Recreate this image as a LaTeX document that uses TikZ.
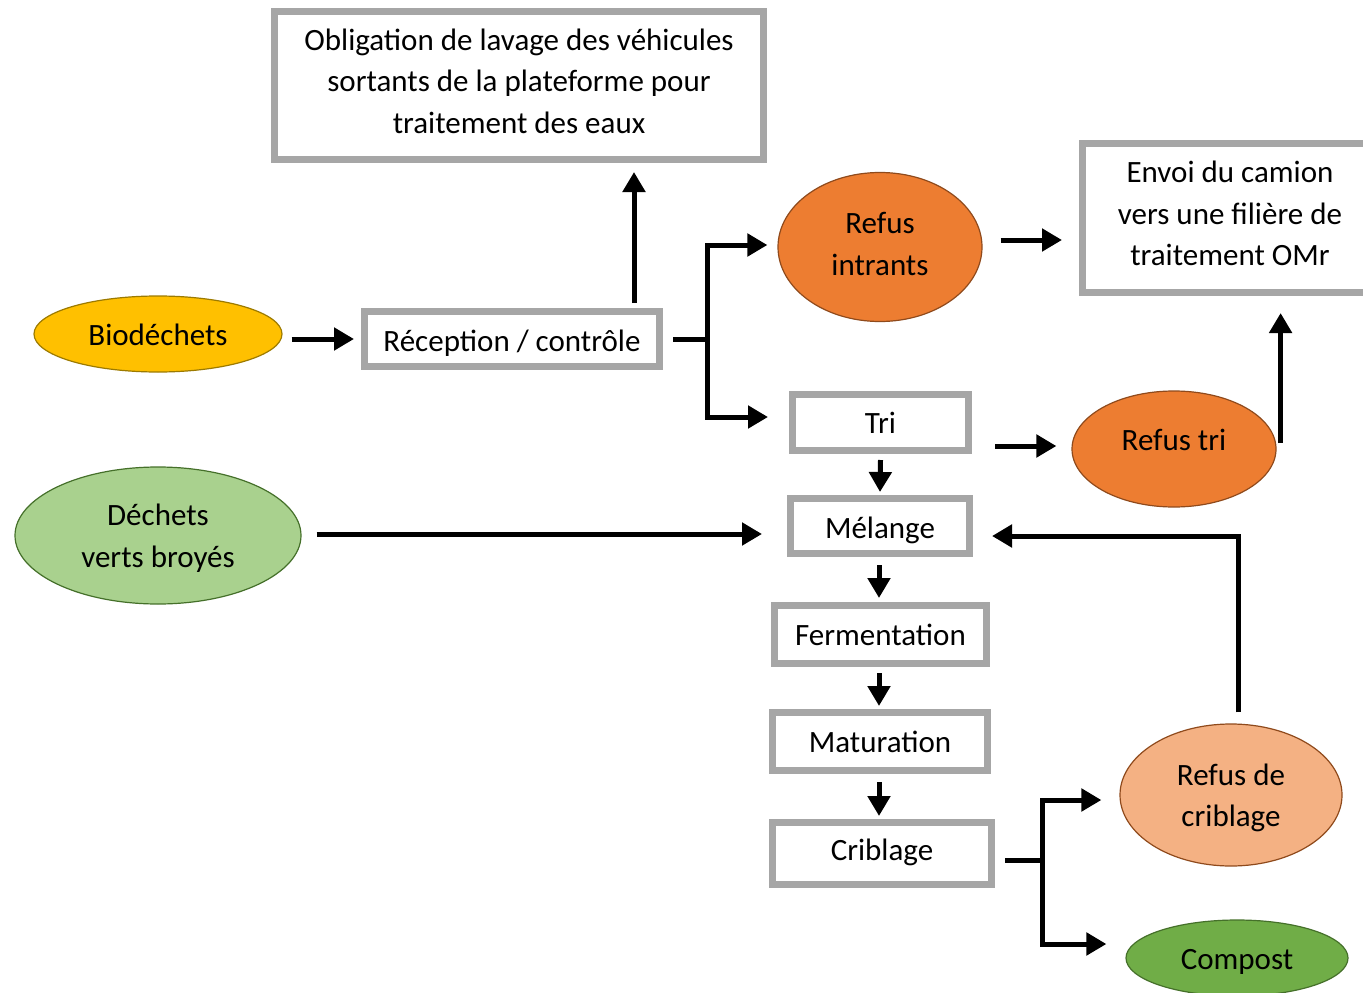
\documentclass[tikz,border=0pt]{standalone}
\usepackage{fontspec}
\setmainfont{Carlito}
\usetikzlibrary{arrows.meta,calc,shapes.geometric}
\definecolor{boxgray}{HTML}{A6A6A6}
\definecolor{cyellow}{HTML}{FFC000}
\definecolor{oyellow}{HTML}{9C7A00}
\definecolor{corange}{HTML}{ED7D31}
\definecolor{oorange}{HTML}{8F4A1C}
\definecolor{corangel}{HTML}{F4B183}
\definecolor{cgreenl}{HTML}{A9D18E}
\definecolor{cgreen}{HTML}{70AD47}
\definecolor{ogreen}{HTML}{45702A}
\begin{document}
\begin{tikzpicture}[x=1pt,y=-1pt,
  every node/.style={font=\fontsize{31}{41.5}\selectfont, text=black, inner sep=0pt, align=center},
  graybox/.style={rectangle, draw=boxgray, line width=7pt, fill=white},
  oval/.style={ellipse, line width=1.2pt},
  arr/.style={line width=5pt, -{Triangle[length=20pt,width=22pt]}},
  ln/.style={line width=5pt}]
\useasboundingbox (0,0) rectangle (1363,993);
\clip (0,0) rectangle (1363,993);

\node[graybox, minimum width=489pt, minimum height=148pt] (obl) at (519,85.5) {};
\node (oblt) at ($(obl)+(0,-4.5)$) {Obligation de lavage des véhicules\\sortants de la plateforme pour\\traitement des eaux};
\node[oval, fill=cyellow, draw=oyellow, minimum width=248pt, minimum height=76pt] (bio) at (158,334) {};
\node (biot) at ($(bio)+(0,1)$) {Biodéchets};
\node[graybox, minimum width=295pt, minimum height=55pt] (rec) at (512,339) {};
\node (rect) at ($(rec)+(0,4)$) {Réception / contrôle};
\node[oval, fill=corange, draw=oorange, minimum width=204pt, minimum height=149pt] (refi) at (880,247) {};
\node (refit) at ($(refi)+(0,-3)$) {Refus\\intrants};
\node[graybox, minimum width=295pt, minimum height=149pt] (env) at (1230,218) {};
\node (envt) at ($(env)+(0,-4.5)$) {Envoi du camion\\vers une filière de\\traitement OMr};
\node[graybox, minimum width=176pt, minimum height=56pt] (tri) at (880.5,422.5) {};
\node (trit) at (tri) {Tri};
\node[oval, fill=corange, draw=oorange, minimum width=204pt, minimum height=116pt] (rtri) at (1174,449) {};
\node (rtrit) at ($(rtri)+(0,-9)$) {Refus tri};
\node[graybox, minimum width=179pt, minimum height=55pt] (mel) at (880,526) {};
\node (melt) at ($(mel)+(0,4)$) {Mélange};
\node[oval, fill=cgreenl, draw=ogreen, minimum width=286pt, minimum height=137pt] (dv) at (158,535.5) {};
\node (dvt) at ($(dv)+(0,2.5)$) {Déchets\\verts broyés};
\node[graybox, minimum width=212pt, minimum height=58pt] (fer) at (880.5,634.5) {};
\node (fert) at (fer) {Fermentation};
\node[graybox, minimum width=215pt, minimum height=58pt] (mat) at (880,741.5) {};
\node (matt) at (mat) {Maturation};
\node[graybox, minimum width=219pt, minimum height=62pt] (cri) at (882,853.5) {};
\node (crit) at ($(cri)+(0,-1)$) {Criblage};
\node[oval, fill=corangel, draw=oorange, minimum width=222pt, minimum height=142pt] (rdc) at (1231,795) {};
\node (rdct) at ($(rdc)+(0,3)$) {Refus de\\criblage};
\node[oval, fill=cgreen, draw=ogreen, minimum width=222pt, minimum height=76pt] (comp) at (1237,958) {};
\node (compt) at ($(comp)+(0,4)$) {Compost};

\draw[arr] ($(bio.east |- rec.west)+(9,0)$) -- ($(rec.west)+(-7,0)$);
\draw[arr] ($(rec.north)+(122,-5)$) -- ($(obl.south)+(115,9)$);
\coordinate (b1) at (707,339);
\draw[ln] ($(rec.east)+(10,0)$) -- (b1);
\draw[arr] (b1) |- ($(refi.west)+(-10,-2)$);
\draw[arr] (b1) |- ($(tri.west)+(-21,-5.5)$);
\draw[arr] ($(refi.east)+(18,-7)$) -- ($(env.west |- refi.east)+(-17,-7)$);
\draw[arr] ($(tri.east)+(23,23.5)$) -- ($(rtri.west |- tri.east)+(-15,23.5)$);
\draw[arr] ($(rtri.east)+(4,-6)$) -- ($(env.south -| rtri.east)+(4,17)$);
\draw[arr] ($(tri.south)+(0,6)$) -- ($(mel.north)+(0,-3)$);
\draw[arr] ($(dv.east)+(15,-1.5)$) -- ($(mel.west)+(-25,8)$);
\draw[arr] ($(rdc.north)+(7,-11)$) |- ($(mel.east)+(19,10)$);
\draw[arr] ($(mel.south)+(-1,8)$) -- ($(fer.north)+(-1.5,-4)$);
\draw[arr] ($(fer.south)+(-1.5,6)$) -- ($(mat.north)+(-1,-3)$);
\draw[arr] ($(mat.south)+(-1,8)$) -- ($(cri.north)+(-3,-3)$);
\coordinate (b2) at (1042,860);
\draw[ln] ($(cri.east)+(10,6.5)$) -- (b2);
\draw[arr] (b2) |- ($(rdc.west)+(-18,5)$);
\draw[arr] (b2) |- ($(comp.west)+(-19,-14)$);
\end{tikzpicture}
\end{document}
